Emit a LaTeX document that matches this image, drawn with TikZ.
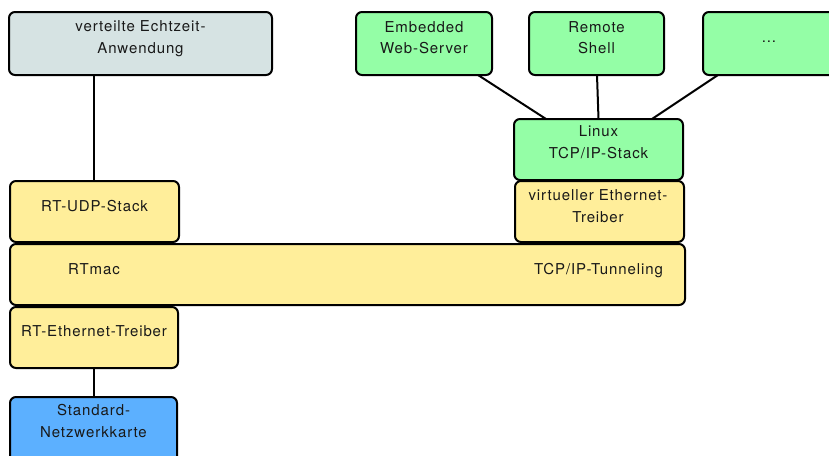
\documentclass[tikz,border=0pt]{standalone}
\usepackage{fontspec}
\setmainfont{TeX Gyre Heros}[LetterSpace=6]
\begin{document}
\begin{tikzpicture}[x=1pt,y=-1pt,
  layer/.style={draw=black, line width=2pt, rounded corners=6pt, anchor=north west,
    inner sep=0pt, outer sep=0pt},
  appbox/.style={layer, fill=appgray},
  svcbox/.style={layer, fill=svcgreen},
  drvbox/.style={layer, fill=drvyellow},
  hwbox/.style={layer, fill=hwblue},
  caption/.style={inner sep=0pt, align=center, text=black!90,
    font=\fontsize{15}{21.7}\selectfont},
  oneline/.style={caption, anchor=base},
  twoline/.style={caption, anchor=north},
  link/.style={line width=2pt, draw=black}]
\definecolor{appgray}{HTML}{D6E3E3}
\definecolor{svcgreen}{HTML}{94FEA6}
\definecolor{drvyellow}{HTML}{FFEE9A}
\definecolor{hwblue}{HTML}{5CB0FF}
\useasboundingbox (0,0) rectangle (829,455);

% applications and services
\node[appbox, minimum width=263pt, minimum height=63pt] (app) at (9,12) {};
\node[svcbox, minimum width=136pt, minimum height=63pt] (web) at (356,12) {};
\node[svcbox, minimum width=135pt, minimum height=63pt] (shell) at (529,12) {};
\node[svcbox, minimum width=140pt, minimum height=63pt] (more) at (703,12) {};
\node[svcbox, minimum width=169pt, minimum height=61pt] (linux) at (514,119) {};

% drivers and protocol layers
\node[drvbox, minimum width=169pt, minimum height=61pt] (veth) at (515,181) {};
\node[drvbox, minimum width=169pt, minimum height=61pt] (udp) at (10,181) {};
\node[drvbox, minimum width=675pt, minimum height=61pt] (rtmac) at (10,244) {};
\node[drvbox, minimum width=168pt, minimum height=61pt] (rteth) at (10,307) {};
\node[hwbox, minimum width=167pt, minimum height=68pt] (nic) at (10,397) {};

% captions
\node[twoline] (tapp) at (140.5,20.7) {verteilte Echtzeit-\\Anwendung};
\node[twoline] (tweb) at (424,21) {Embedded\\Web-Server};
\node[twoline] (tshell) at (596.5,21) {Remote\\Shell};
\node[oneline] (tmore) at (769,42) {...};
\node[twoline] (tlinux) at (598.5,125.7) {Linux\\TCP/IP-Stack};
\node[twoline] (tveth) at (598,189.7) {virtueller Ethernet-\\Treiber};
\node[oneline] (tudp) at (94.5,211) {RT-UDP-Stack};
\node[oneline] (trtmac) at (94,274) {RTmac};
\node[oneline] (ttun) at (598.5,274) {TCP/IP-Tunneling};
\node[oneline] (trteth) at (94,336) {RT-Ethernet-Treiber};
\node[twoline] (tnic) at (93.5,404) {Standard-\\Netzwerkkarte};

% connections
\draw[link] ([xshift=-0.5pt]udp.north) -- ([xshift=-0.5pt]udp.north |- app.south);
\draw[link] (rteth.south) -- (rteth.south |- nic.north);
\draw[link] ([xshift=54pt]web.south) -- ([xshift=-52.5pt]linux.north);
\draw[link] ([xshift=0.5pt]shell.south) -- (linux.north);
\draw[link] ([xshift=15pt]more.south west) -- ([xshift=53.5pt]linux.north);
\end{tikzpicture}
\end{document}
